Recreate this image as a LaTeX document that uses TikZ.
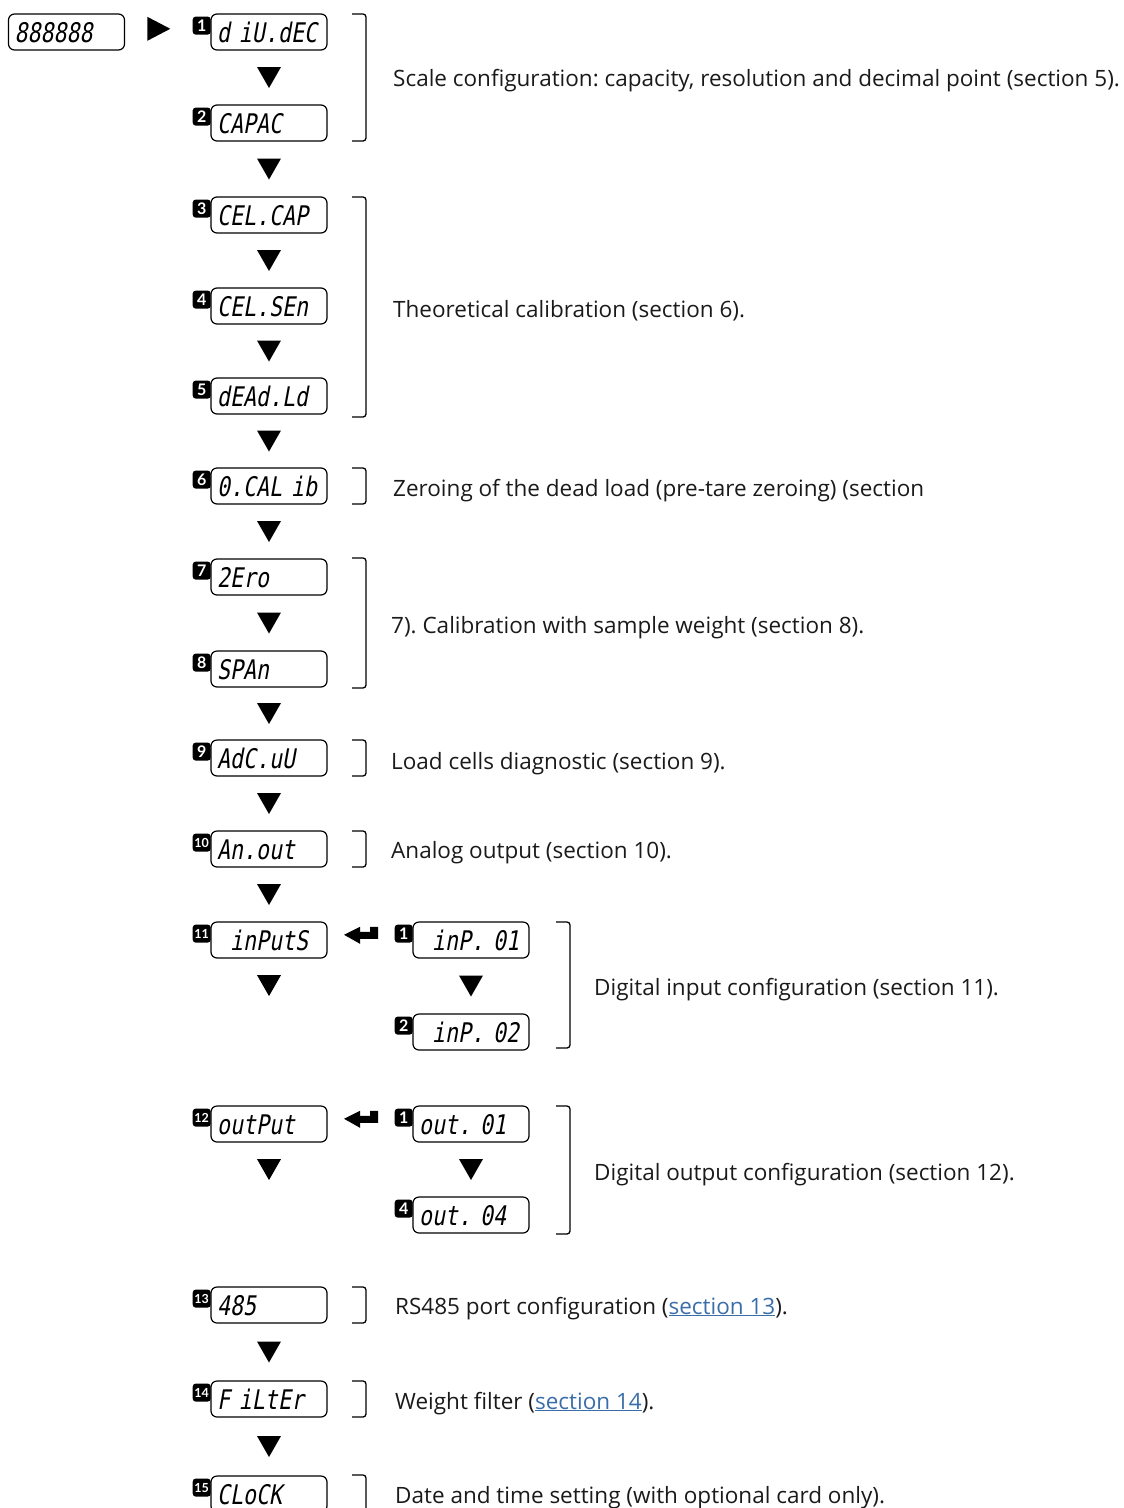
\documentclass[tikz,border=0pt]{standalone}
\usepackage{fontspec}
\setmainfont{Open Sans}
\newfontfamily\badgefont{Lato}
\newfontfamily\segfont{DejaVu Sans Mono}[FakeSlant=0.18,FakeStretch=0.8]
\usetikzlibrary{calc}
\definecolor{linkblue}{HTML}{3A6EA8}
\definecolor{ink}{HTML}{1A1A1A}
\newcommand{\lnk}[1]{{\color{linkblue}\underline{#1}}}
\frenchspacing
\begin{document}
\begin{tikzpicture}[x=1pt,y=-1pt,
  disp/.style={draw,line width=1.2pt,rounded corners=6pt,minimum width=116pt,minimum height=36pt,
    inner sep=0pt,text width=104pt,align=left,text height=22pt,text depth=2pt,
    font=\segfont\fontsize{27}{27}\selectfont},
  badge/.style={fill=black,rounded corners=3pt,text=white,anchor=north east,
    font=\badgefont\bfseries\fontsize{16}{16}\selectfont,minimum width=18pt,minimum height=18pt,inner sep=0pt},
  badgetwo/.style={badge,font=\badgefont\bfseries\fontsize{12.5}{12.5}\selectfont},
  lbl/.style={anchor=base west,font=\fontsize{22.5}{26}\selectfont,inner sep=0pt,text=ink},
  brk/.style={line width=1.3pt,rounded corners=3pt},
  tridown/.pic={\fill (-12,-10.5) -- (12,-10.5) -- (0,10.5) -- cycle;},
  triright/.pic={\fill (-11.5,-12) -- (11.5,0) -- (-11.5,12) -- cycle;},
  enter/.pic={\fill (-17,-1) -- (-1,-9) -- (-1,-4) -- (9,-4) -- (9,-9) -- (17,-9) -- (17,3) -- (-1,3) -- (-1,8) -- cycle;},
]
\useasboundingbox (0,0) rectangle (1124,1508);
\clip (0,0) rectangle (1124,1508);

% main column
\node[disp] (b0) at (66.5,32) {888888};
\node[disp] (b1) at (269,32) {d iU.dEC};
\node[disp] (b2) at (269,123) {CAPAC};
\node[disp] (b3) at (269,215) {CEL.CAP};
\node[disp] (b4) at (269,306) {CEL.SEn};
\node[disp] (b5) at (269,396) {dEAd.Ld};
\node[disp] (b6) at (269,486) {0.CAL ib};
\node[disp] (b7) at (269,577) {2Ero};
\node[disp] (b8) at (269,669) {SPAn};
\node[disp] (b9) at (269,758) {AdC.uU};
\node[disp] (b10) at (269,849) {An.out};
\node[disp] (b11) at (269,940) {\hphantom{0}inPutS};
\node[disp] (b12) at (269,1124) {outPut};
\node[disp] (b13) at (269,1305) {485};
\node[disp] (b14) at (269,1399) {F iLtEr};
\node[disp] (b15) at (269,1494) {CLoCK};
% sub column
\node[disp] (s1) at (471,940) {\hphantom{0}inP. 01};
\node[disp] (s2) at (471,1032) {\hphantom{0}inP. 02};
\node[disp] (s3) at (471,1124) {out. 01};
\node[disp] (s4) at (471,1215) {out. 04};

% badges
\foreach \n in {1,...,9} {\node[badge] (k\n) at ($(b\n.north west)+(0.5,3)$) {\n};}
\foreach \n in {10,...,15} {\node[badgetwo] (k\n) at ($(b\n.north west)+(0.5,3)$) {\n};}
\node[badge] (ks1) at ($(s1.north west)+(0.5,3)$) {1};
\node[badge] (ks2) at ($(s2.north west)+(0.5,3)$) {2};
\node[badge] (ks3) at ($(s3.north west)+(0.5,3)$) {1};
\node[badge] (ks4) at ($(s4.north west)+(0.5,3)$) {4};

% arrows
\pic at ($(b0.east)!0.5!(k1.west)$) {triright};
\foreach \a/\b in {b1/b2,b2/b3,b3/b4,b4/b5,b5/b6,b6/b7,b7/b8,b8/b9,b9/b10,b10/b11,b13/b14,b14/b15,s1/s2,s3/s4}
  {\pic at ($(\a.south)!0.5!(\b.north)$) {tridown};}
\pic at ($(b11.south)+(0,27)$) {tridown};
\pic at ($(b12.south)+(0,27)$) {tridown};
\pic at ($(b11.east)!0.5!(ks1.west)+(0,-1)$) {enter};
\pic at ($(b12.east)!0.5!(ks3.west)+(0,-1)$) {enter};

% brackets
\foreach \x/\ya/\yb in {366/14/141,366/197/417,366/468/504,366/558/688,366/740/776,366/831/867,
  570/922/1048,570/1106/1234,366/1287/1323,366/1381/1417,366/1475/1530}
  {\draw[brk] (\x-14,\ya) -- (\x,\ya) -- (\x,\yb) -- (\x-14,\yb);}

% labels
\node[lbl] (t1) at (393,86) {Scale configuration: capacity, resolution and decimal point (section 5).};
\node[lbl] (t2) at (393,317) {Theoretical calibration (section 6).};
\node[lbl] (t3) at (393,496) {Zeroing of the dead load (pre-tare zeroing) (section};
\node[lbl] (t4) at (391,633) {7). Calibration with sample weight (section 8).};
\node[lbl] (t5) at (391,769) {Load cells diagnostic (section 9).};
\node[lbl] (t6) at (391,858) {Analog output (section 10).};
\node[lbl] (t7) at (594,995) {Digital input configuration (section 11).};
\node[lbl] (t8) at (594,1180) {Digital output configuration (section 12).};
\node[lbl] (t9) at (395,1314) {RS485 port configuration (\lnk{section 13}).};
\node[lbl] (t10) at (395,1409) {Weight filter (\lnk{section 14}).};
\node[lbl] (t11) at (395,1503) {Date and time setting (with optional card only).};
\end{tikzpicture}
\end{document}
